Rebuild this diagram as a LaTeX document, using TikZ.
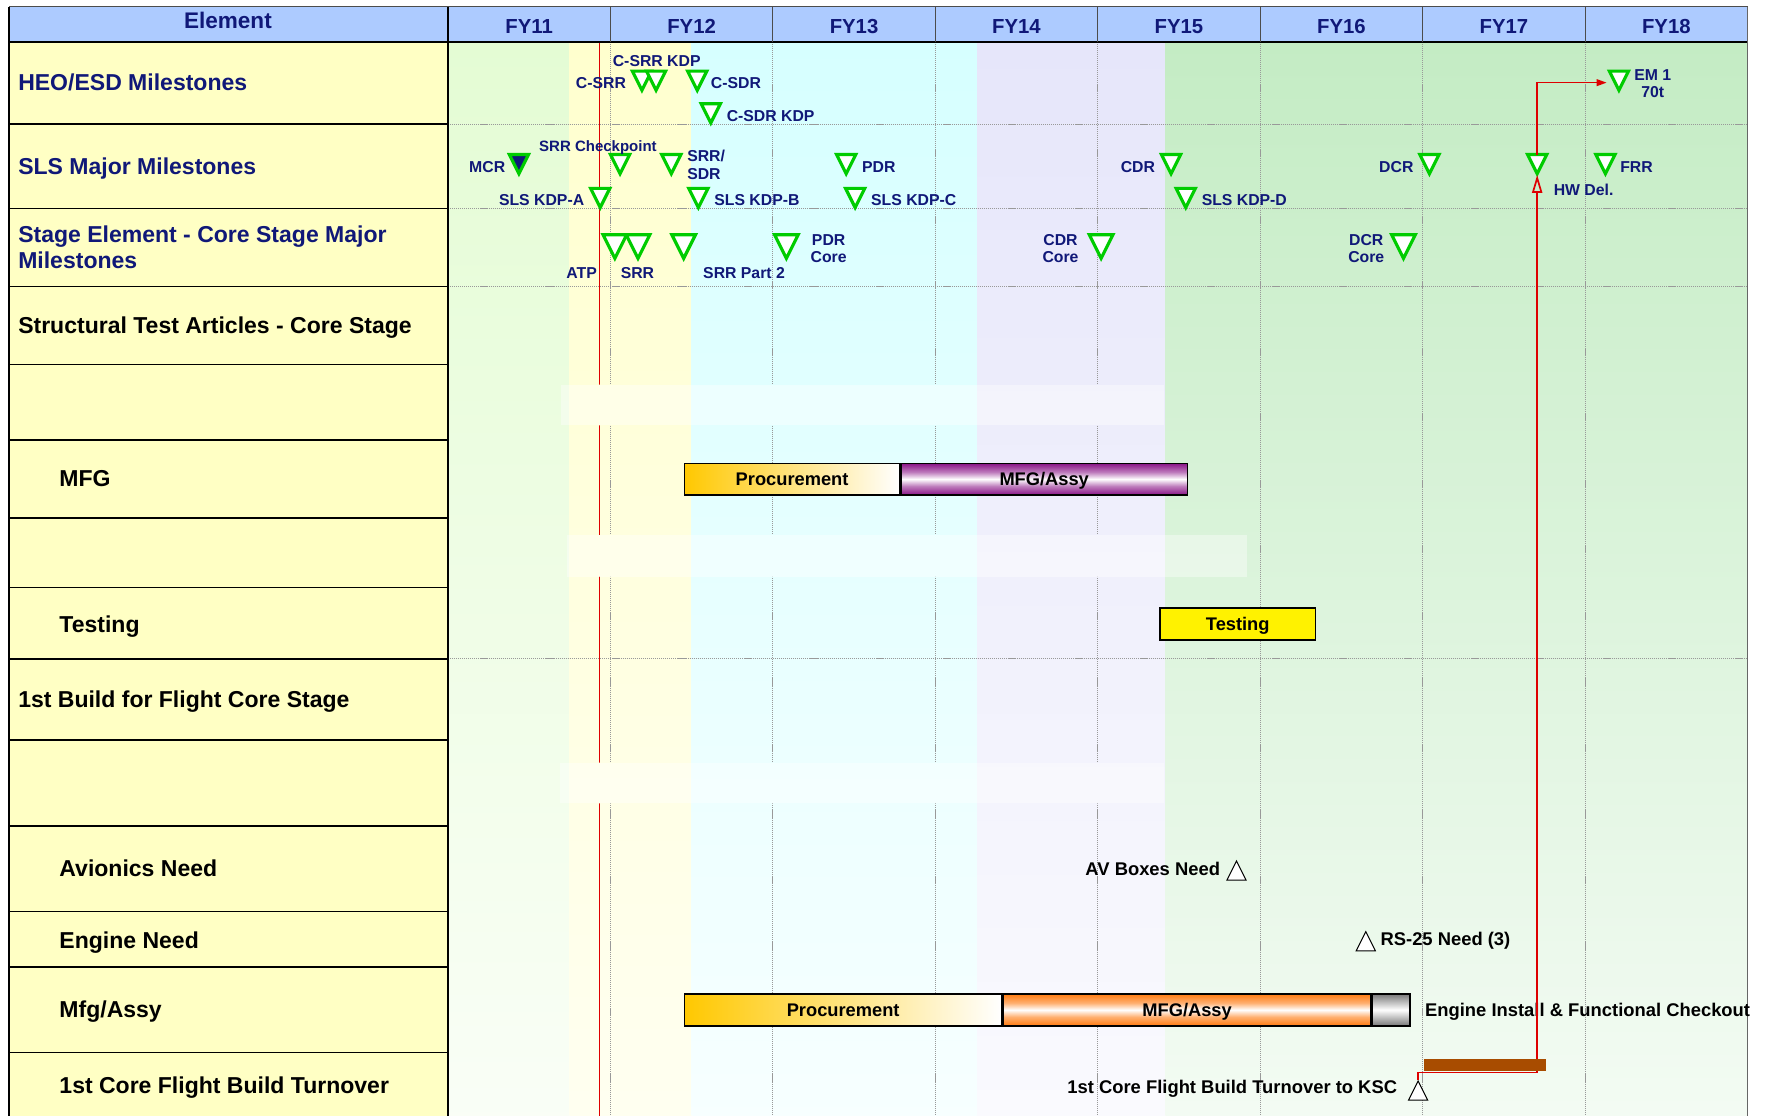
\documentclass[tikz,border=0pt]{standalone}
\usepackage{fontspec}
\setmainfont{Liberation Sans}
\usepackage{xcolor}
\usepackage{tikz}
\usetikzlibrary{arrows.meta,shapes.geometric}

\definecolor{navy}{RGB}{16,24,120}
\definecolor{hdrblue}{RGB}{173,203,255}
\definecolor{elemyellow}{RGB}{255,255,196}
\definecolor{msgreen}{RGB}{0,204,0}
\definecolor{bandA}{RGB}{228,252,212}
\definecolor{bandB}{RGB}{255,255,206}
\definecolor{bandC}{RGB}{214,255,255}
\definecolor{bandD}{RGB}{230,230,250}
\definecolor{bandE}{RGB}{196,236,196}
\definecolor{procorange}{RGB}{255,200,0}
\definecolor{mfgpurple}{RGB}{136,18,134}
\definecolor{mfgorange}{RGB}{255,122,16}
\definecolor{checkgray}{RGB}{120,120,120}
\definecolor{turnbrown}{RGB}{168,76,0}
\definecolor{linkred}{RGB}{222,0,0}

\pgfdeclareverticalshading{purplebar}{100bp}{color(0bp)=(mfgpurple); color(25bp)=(mfgpurple); color(39bp)=(mfgpurple!55!white); color(50bp)=(white); color(61bp)=(mfgpurple!55!white); color(75bp)=(mfgpurple); color(100bp)=(mfgpurple)}
\pgfdeclareverticalshading{orangebar}{100bp}{color(0bp)=(mfgorange); color(25bp)=(mfgorange); color(39bp)=(mfgorange!60!white); color(50bp)=(white); color(61bp)=(mfgorange!60!white); color(75bp)=(mfgorange); color(100bp)=(mfgorange)}
\pgfdeclareverticalshading{graybar}{100bp}{color(0bp)=(checkgray); color(25bp)=(checkgray); color(50bp)=(white); color(75bp)=(checkgray); color(100bp)=(checkgray)}

\begin{document}
\begin{tikzpicture}[x=1pt,y=-1pt]
\tikzstyle{rowlabel}=[anchor=west, inner sep=0pt, font=\fontsize{20.4}{23}\selectfont\bfseries, text height=14.6pt, text depth=0pt, align=left]
\tikzstyle{mslabel}=[inner sep=0pt, font=\fontsize{14}{15.5}\selectfont\bfseries, text=navy, text height=10pt, text depth=0pt]
\tikzstyle{needlabel}=[inner sep=0pt, font=\fontsize{16.3}{18}\selectfont\bfseries, text height=11.7pt, text depth=0pt]
\tikzstyle{ms}=[isosceles triangle, isosceles triangle stretches, shape border rotate=270, draw=msgreen, fill=white, line width=2.8pt, inner sep=0pt, outer sep=0pt, minimum width=17pt, minimum height=17pt, anchor=apex]
\tikzstyle{bigms}=[ms, minimum width=21pt, minimum height=21pt]
\tikzstyle{need}=[isosceles triangle, isosceles triangle stretches, shape border rotate=90, draw=black, fill=white, line width=0.9pt, inner sep=0pt, minimum width=17pt, minimum height=17pt, anchor=apex]
\tikzstyle{ganttbar}=[draw=black, line width=1.2pt, anchor=west, inner sep=0pt, minimum height=28.3pt, font=\fontsize{16.2}{18}\selectfont\bfseries, text height=11.6pt, text depth=0pt]
\tikzstyle{gridline}=[black!40, line width=0.7pt, dash pattern=on 1pt off 0.8pt]
\tikzstyle{whitepatch}=[white, opacity=0.4]
\tikzstyle{redlink}=[linkred, line width=1.5pt]

\useasboundingbox (0,0) rectangle (1568,989);

% time bands
\shade[top color=bandA, bottom color=bandA!20!white] (397,37) rectangle (505,989);
\shade[top color=bandB, bottom color=bandB!30!white] (505,37) rectangle (613,989);
\shade[top color=bandC, bottom color=bandC!20!white] (613,37) rectangle (866,989);
\shade[top color=bandD, bottom color=bandD!20!white] (866,37) rectangle (1033,989);
\shade[top color=bandE, bottom color=bandE!20!white] (1033,37) rectangle (1549,989);
\fill[elemyellow] (8,37) rectangle (397,989);
\fill[hdrblue] (8,6) rectangle (1549,37);

\begin{scope}[even odd rule]
\clip (397,37) rectangle (1549,989)
  (497,341) rectangle (1032,377) (503,474) rectangle (1105,511) (496,676) rectangle (1032,712);
\foreach \x in {541,685,...,1405}
  \draw[gridline] (\x,37) -- (\x,989);
\foreach \y in {110,185,254,584}
  \draw[gridline] (397,\y) -- (1549,\y);
\draw[linkred, line width=0.6pt] (531.5,37) -- (531.5,989);
\end{scope}
\fill[whitepatch] (497,341) rectangle (1032,377);
\fill[whitepatch] (503,474) rectangle (1105,511);
\fill[whitepatch] (496,676) rectangle (1032,712);

% table frame
\draw[line width=1pt, black!70] (8,6) -- (1549,6);
\draw[line width=1.6pt] (8,37) -- (1549,37);
\foreach \y in {110,185,254,323,390,459,521,584,656,732,808,857,933}
  \draw[line width=1.2pt] (8,\y) -- (397,\y);
\draw[line width=1.2pt] (8,6) -- (8,989);
\draw[line width=1.2pt] (397,6) -- (397,989);
\foreach \x in {541,685,...,1405}
  \draw[line width=1pt, black!70] (\x,6) -- (\x,37);
\draw[line width=1pt, black!60] (1549,6) -- (1549,989);

\node[inner sep=0pt, font=\fontsize{20}{22}\selectfont\bfseries, text=navy, text height=14.3pt, text depth=0pt] (hdr) at (202,18.3) {Element};
\foreach \yr in {11,...,18}
  \node[inner sep=0pt, font=\fontsize{18}{20}\selectfont\bfseries, text=navy, text height=12.9pt, text depth=0pt] (fy\yr) at ({469+144*(\yr-11)},23.3) {FY\yr};

\node[rowlabel, text=navy] (lheo) at (16,72.7) {HEO/ESD Milestones};
\node[rowlabel, text=navy] (lsls) at (16,147.3) {SLS Major Milestones};
\node[rowlabel, text=navy] (lstage) at (16,230.7) {Stage Element - Core Stage Major\\Milestones};
\node[rowlabel] (lsta) at (16,288.4) {Structural Test Articles - Core Stage};
\node[rowlabel] (lmfg) at (52.5,424) {MFG};
\node[rowlabel] (ltest) at (52.5,553) {Testing};
\node[rowlabel] (lbuild) at (16,620) {1st Build for Flight Core Stage};
\node[rowlabel] (lavion) at (52.5,770) {Avionics Need};
\node[rowlabel] (lengine) at (52.5,833) {Engine Need};
\node[rowlabel] (lmfgassy) at (52.5,895) {Mfg/Assy};
\node[rowlabel] (lturn) at (52.5,962) {1st Core Flight Build Turnover};

% HEO/ESD
\node[ms] (csrr) at (569,80) {};
\node[ms] (csrrkdp) at (581.5,80) {};
\node[ms] (csdr) at (618,80) {};
\node[ms] (csdrkdp) at (630,109) {};
\node[ms] (em1) at (1435,80) {};
\node[mslabel, anchor=east] (tcsrr) at (555,73) {C-SRR};
\node[mslabel, anchor=west] (tcsrrkdp) at (543,54) {C-SRR KDP};
\node[mslabel, anchor=west] (tcsdr) at (630,73) {C-SDR};
\node[mslabel, anchor=west] (tcsdrkdp) at (644,103) {C-SDR KDP};
\node[mslabel, align=center] (tem1) at (1465,81.5) {EM 1\\70t};

% SLS major
\node[ms, fill=navy] (mcr) at (460,154) {};
\node[ms] (srrchk) at (549.6,154) {};
\node[ms] (srrsdr) at (595,154) {};
\node[ms] (pdr) at (750,154) {};
\node[ms] (cdr) at (1038,154) {};
\node[ms] (dcr) at (1267,154) {};
\node[ms] (hwdel) at (1362.5,154) {};
\node[ms] (frr) at (1423,154) {};
\node[ms] (kdpa) at (532,184) {};
\node[ms] (kdpb) at (619,184) {};
\node[ms] (kdpc) at (758,184) {};
\node[ms] (kdpd) at (1051,184) {};
\node[mslabel, anchor=east] (tmcr) at (448,148) {MCR};
\node[mslabel, font=\fontsize{13.3}{14.5}\selectfont\bfseries] (tsrrchk) at (530,129) {SRR Checkpoint};
\node[mslabel, anchor=west, align=left] (tsrrsdr) at (609,154) {SRR/\\SDR};
\node[mslabel, anchor=west] (tpdr) at (764,148) {PDR};
\node[mslabel, anchor=east] (tcdr) at (1024,148) {CDR};
\node[mslabel, anchor=east] (tdcr) at (1253,148) {DCR};
\node[mslabel, anchor=west] (thwdel) at (1377,168) {HW Del.};
\node[mslabel, anchor=west] (tfrr) at (1436,148) {FRR};
\node[mslabel, anchor=east] (tkdpa) at (518,177) {SLS KDP-A};
\node[mslabel, anchor=west] (tkdpb) at (633,177) {SLS KDP-B};
\node[mslabel, anchor=west] (tkdpc) at (772,177) {SLS KDP-C};
\node[mslabel, anchor=west] (tkdpd) at (1065,177) {SLS KDP-D};

% core stage
\node[bigms] (atp) at (545,229) {};
\node[bigms] (srr) at (565.5,229) {};
\node[bigms] (srrpt2) at (606,229) {};
\node[bigms] (pdrcore) at (697,229) {};
\node[bigms] (cdrcore) at (976,229) {};
\node[bigms] (dcrcore) at (1244,229) {};
\node[mslabel] (tatp) at (515.5,242) {ATP};
\node[mslabel] (tsrr) at (565,242) {SRR};
\node[mslabel] (tsrrpt2) at (659.5,242) {SRR Part 2};
\node[mslabel, align=center] (tpdrcore) at (734.5,228) {PDR\\Core};
\node[mslabel, align=center] (tcdrcore) at (940,228) {CDR\\Core};
\node[mslabel, align=center] (tdcrcore) at (1211,228) {DCR\\Core};

% structural test articles
\node[ganttbar, left color=procorange, right color=white, minimum width=191pt] (staproc) at (606,424.7) {Procurement};
\node[ganttbar, shading=purplebar, minimum width=253.5pt] (staassy) at (staproc.east) {MFG/Assy};
\node[ganttbar, fill=yellow, minimum width=138pt] (statest) at (1027.5,553) {Testing};

% first flight build
\node[need] (avneed) at (1096,762) {};
\node[need] (rsneed) at (1210.6,824.6) {};
\node[need] (turnksc) at (1257,957) {};
\node[needlabel, anchor=east] (tav) at (1081.6,770) {AV Boxes Need};
\node[needlabel, anchor=west] (trs) at (1223.5,832.5) {RS-25 Need (3)};
\node[needlabel, anchor=east] (tturn) at (1238.5,963.5) {1st Core Flight Build Turnover to KSC};
\node[ganttbar, left color=procorange, right color=white, minimum width=281.5pt] (fbproc) at (606,895.1) {Procurement};
\node[ganttbar, shading=orangebar, minimum width=325.8pt] (fbassy) at (fbproc.east) {MFG/Assy};
\node[ganttbar, shading=graybar, minimum width=33.4pt] (fbcheck) at (fbassy.east) {};
\node[needlabel, anchor=west] (tcheck) at (1263,895) {Engine Install \& Functional Checkout};

\draw[redlink, -{Triangle[open, length=16pt, width=9pt]}, shorten >=1pt] (turnksc.apex) -- ++(0,-6.5) -| (hwdel.apex);
\draw[redlink, -{Triangle[length=9pt, width=6pt]}, shorten >=5pt] (hwdel.north) |- ([yshift=-5pt]em1.west);
\node[fill=turnbrown, anchor=west, inner sep=0pt, minimum width=108pt, minimum height=10pt] (turnbar) at (1262,944) {};
\end{tikzpicture}
\end{document}
